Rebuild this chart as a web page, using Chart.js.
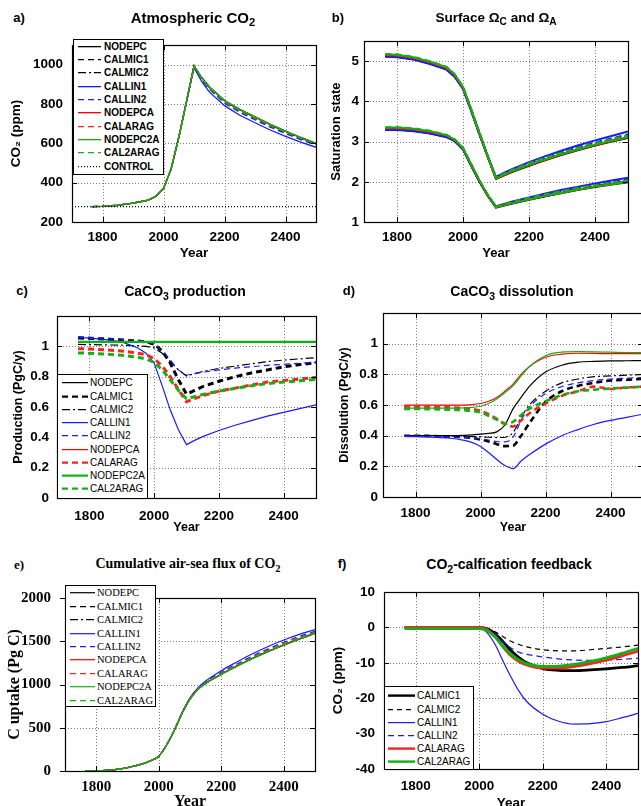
<!DOCTYPE html>
<html lang="en">
  <head>
    <meta charset="UTF-8" />
    <script src="https://cdn.jsdelivr.net/npm/chart.js"></script>
    <title>Calcification feedback runs</title>
    <style>
      body {
        margin: 0;
        width: 641px;
        height: 806px;
        overflow: hidden;
        position: relative;
        background: #fff;
        font-family: 'Liberation Sans', Arial, sans-serif;
      }
      canvas { position: absolute; }
      .label {
        position: absolute;
        transform: translate(-50%, -50%);
        white-space: nowrap;
        font-weight: bold;
      }
      .label sub { font-size: 75%; vertical-align: -0.35em; line-height: 0; }
      .legend {
        position: absolute;
        background: #fff;
        border: 1px solid #000;
        box-sizing: border-box;
      }
      .legend .item { position: absolute; left: 0; right: 0; }
      .legend svg { position: absolute; top: 0; }
      .legend span { position: absolute; top: 0; white-space: nowrap; }
    </style>
  </head>
  <body>
    <script>
      // time axis shared by every run
      const years = [1765, 1800, 1850, 1900, 1950, 1975, 2000, 2025, 2050, 2075,
                     2100, 2125, 2150, 2200, 2250, 2300, 2350, 2400, 2450, 2500];
      const controlYears = [1700, 2500];
      const controlCo2 = [278, 278];

      const xTicks = [1800, 2000, 2200, 2400];
      const co2Ticks = [200, 400, 600, 800, 1000];
      const omegaTicks = [1, 2, 3, 4, 5];
      const caco3Ticks = [0, 0.2, 0.4, 0.6, 0.8, 1];
      const uptakeTicks = [0, 500, 1000, 1500, 2000];
      const feedbackTicks = [-40, -30, -20, -10, 0, 10];

      // a) atmospheric CO2 (ppm)
      const co2 = {
        NODEPC:   [278,280,285,296,311,331,370,470,630,810, 995,935,888,818,773,735,697,662,630,600],
        CALMIC1:  [278,280,285,296,311,331,370,470,630,810, 990,928,880,811,765,727,690,655,624,596],
        CALMIC2:  [278,280,285,296,311,331,370,470,630,810, 993,932,885,815,770,732,694,659,628,598],
        CALLIN1:  [278,280,285,296,311,331,370,470,630,808, 985,915,862,792,743,705,668,636,606,580],
        CALLIN2:  [278,280,285,296,311,331,370,470,630,809, 990,925,876,805,758,720,683,650,619,592],
        NODEPCA:  [278,280,285,296,311,331,370,470,630,810, 995,935,887,817,772,734,696,661,629,600],
        CALARAG:  [278,280,285,296,311,331,370,470,630,810, 992,930,881,812,766,728,692,657,626,598],
        NODEPC2A: [278,280,285,296,311,331,370,470,630,810, 995,935,888,818,773,735,697,662,630,601],
        CAL2ARAG: [278,280,285,296,311,331,370,470,630,810, 992,931,883,813,767,729,693,658,627,599]
      };

      // b) surface saturation state, calcite (upper) and aragonite (lower)
      const omegaC = {
        NODEPC:   [5.12,5.11,5.05,4.94,4.80,4.62,4.32,3.77,3.18,2.62,2.07,2.16,2.25,2.40,2.54,2.67,2.79,2.90,3.00,3.09],
        CALMIC1:  [5.13,5.12,5.06,4.95,4.81,4.63,4.33,3.78,3.19,2.63,2.09,2.19,2.28,2.43,2.57,2.70,2.82,2.93,3.03,3.12],
        CALMIC2:  [5.13,5.12,5.06,4.95,4.81,4.63,4.33,3.78,3.19,2.63,2.08,2.18,2.27,2.42,2.56,2.69,2.81,2.92,3.02,3.11],
        CALLIN1:  [5.11,5.10,5.04,4.93,4.79,4.61,4.31,3.76,3.18,2.63,2.12,2.23,2.32,2.49,2.64,2.78,2.91,3.03,3.14,3.25],
        CALLIN2:  [5.12,5.11,5.05,4.94,4.80,4.62,4.32,3.77,3.19,2.63,2.10,2.21,2.30,2.46,2.60,2.74,2.86,2.98,3.08,3.18],
        NODEPCA:  [5.15,5.14,5.08,4.97,4.83,4.65,4.34,3.79,3.20,2.63,2.08,2.17,2.26,2.41,2.55,2.68,2.80,2.91,3.01,3.10],
        CALARAG:  [5.16,5.15,5.09,4.98,4.84,4.66,4.35,3.80,3.21,2.64,2.10,2.20,2.29,2.45,2.59,2.72,2.84,2.95,3.05,3.14],
        NODEPC2A: [5.17,5.16,5.10,4.99,4.85,4.67,4.36,3.80,3.21,2.64,2.09,2.18,2.27,2.42,2.56,2.69,2.81,2.92,3.02,3.11],
        CAL2ARAG: [5.18,5.17,5.11,5.00,4.86,4.68,4.37,3.81,3.22,2.65,2.11,2.21,2.30,2.46,2.60,2.73,2.85,2.96,3.06,3.15]
      };
      const omegaA = {
        NODEPC:   [3.30,3.30,3.27,3.21,3.12,3.02,2.81,2.40,2.00,1.65,1.36,1.41,1.46,1.55,1.64,1.72,1.80,1.87,1.93,1.99],
        CALMIC1:  [3.31,3.31,3.28,3.22,3.13,3.03,2.82,2.41,2.01,1.66,1.37,1.43,1.48,1.57,1.66,1.75,1.83,1.90,1.96,2.02],
        CALMIC2:  [3.31,3.31,3.28,3.22,3.13,3.03,2.82,2.41,2.01,1.66,1.37,1.42,1.47,1.56,1.65,1.74,1.82,1.89,1.95,2.01],
        CALLIN1:  [3.29,3.29,3.26,3.20,3.11,3.01,2.80,2.40,2.00,1.66,1.39,1.45,1.51,1.61,1.71,1.80,1.88,1.96,2.03,2.10],
        CALLIN2:  [3.30,3.30,3.27,3.21,3.12,3.02,2.81,2.41,2.01,1.66,1.38,1.44,1.49,1.59,1.68,1.77,1.85,1.93,2.00,2.06],
        NODEPCA:  [3.33,3.33,3.30,3.24,3.15,3.04,2.83,2.42,2.02,1.66,1.37,1.42,1.47,1.56,1.65,1.73,1.81,1.88,1.94,2.00],
        CALARAG:  [3.34,3.34,3.31,3.25,3.16,3.05,2.84,2.43,2.03,1.67,1.38,1.44,1.49,1.59,1.68,1.76,1.84,1.91,1.97,2.03],
        NODEPC2A: [3.35,3.35,3.32,3.26,3.16,3.05,2.84,2.43,2.03,1.67,1.37,1.42,1.47,1.56,1.65,1.73,1.81,1.88,1.94,2.00],
        CAL2ARAG: [3.36,3.36,3.33,3.27,3.17,3.06,2.85,2.44,2.04,1.68,1.38,1.44,1.50,1.60,1.69,1.77,1.85,1.92,1.98,2.04]
      };

      // c) CaCO3 production (PgC/y)
      const production = {
        NODEPC:   [1.03,1.03,1.03,1.03,1.03,1.03,1.03,1.03,1.03,1.03,1.03,1.03,1.03,1.03,1.03,1.03,1.03,1.03,1.03,1.03],
        CALMIC1:  [1.055,1.054,1.048,1.042,1.035,1.03,1.015,0.97,0.89,0.78,0.685,0.71,0.735,0.77,0.80,0.825,0.845,0.865,0.88,0.893],
        CALMIC2:  [1.013,1.012,1.01,1.008,1.005,1.0,0.99,0.955,0.90,0.845,0.805,0.82,0.835,0.855,0.87,0.885,0.90,0.91,0.918,0.926],
        CALLIN1:  [1.06,1.055,1.045,1.03,0.99,0.955,0.89,0.74,0.58,0.45,0.352,0.38,0.405,0.445,0.48,0.51,0.54,0.565,0.59,0.615],
        CALLIN2:  [1.065,1.06,1.055,1.048,1.04,1.032,1.015,0.975,0.91,0.845,0.81,0.82,0.83,0.845,0.857,0.866,0.875,0.882,0.889,0.896],
        NODEPCA:  [1.03,1.03,1.03,1.03,1.03,1.03,1.03,1.03,1.03,1.03,1.03,1.03,1.03,1.03,1.03,1.03,1.03,1.03,1.03,1.03],
        CALARAG:  [0.985,0.983,0.978,0.97,0.955,0.945,0.92,0.87,0.80,0.715,0.635,0.655,0.675,0.705,0.725,0.745,0.765,0.775,0.785,0.795],
        NODEPC2A: [1.03,1.03,1.03,1.03,1.03,1.03,1.03,1.03,1.03,1.03,1.03,1.03,1.03,1.03,1.03,1.03,1.03,1.03,1.03,1.03],
        CAL2ARAG: [0.957,0.955,0.95,0.942,0.928,0.917,0.895,0.845,0.78,0.71,0.655,0.668,0.683,0.705,0.723,0.74,0.755,0.765,0.773,0.782]
      };

      // d) CaCO3 dissolution (PgC/y)
      const dissolution = {
        NODEPC:   [0.40,0.40,0.40,0.40,0.402,0.405,0.41,0.415,0.425,0.47,0.575,0.65,0.72,0.815,0.86,0.88,0.885,0.888,0.889,0.89],
        CALMIC1:  [0.40,0.40,0.398,0.395,0.39,0.385,0.375,0.362,0.345,0.332,0.335,0.40,0.48,0.62,0.69,0.725,0.745,0.76,0.765,0.77],
        CALMIC2:  [0.40,0.40,0.40,0.398,0.396,0.394,0.392,0.39,0.388,0.39,0.42,0.52,0.60,0.69,0.745,0.77,0.785,0.79,0.795,0.80],
        CALLIN1:  [0.395,0.393,0.39,0.385,0.37,0.355,0.33,0.29,0.245,0.205,0.185,0.235,0.275,0.345,0.40,0.44,0.475,0.50,0.52,0.54],
        CALLIN2:  [0.40,0.398,0.395,0.392,0.388,0.385,0.38,0.372,0.362,0.36,0.39,0.50,0.585,0.674,0.72,0.745,0.76,0.77,0.775,0.78],
        NODEPCA:  [0.60,0.60,0.60,0.60,0.60,0.603,0.61,0.625,0.65,0.69,0.735,0.80,0.85,0.912,0.932,0.938,0.937,0.935,0.935,0.935],
        CALARAG:  [0.59,0.59,0.588,0.585,0.58,0.575,0.563,0.54,0.51,0.478,0.46,0.50,0.545,0.61,0.66,0.69,0.72,0.705,0.715,0.72],
        NODEPC2A: [0.58,0.58,0.58,0.58,0.582,0.585,0.592,0.61,0.64,0.68,0.725,0.79,0.85,0.922,0.945,0.948,0.947,0.945,0.943,0.942],
        CAL2ARAG: [0.575,0.575,0.573,0.57,0.566,0.562,0.552,0.53,0.505,0.478,0.49,0.535,0.575,0.625,0.665,0.69,0.70,0.708,0.714,0.72]
      };

      // e) cumulative air-sea flux (Pg C)
      const uptake = {
        NODEPC:   [0,2,12,40,85,120,170,300,470,670,830,940,1010,1115,1210,1300,1380,1455,1525,1590],
        CALMIC1:  [0,2,12,40,85,120,170,300,470,670,833,945,1017,1123,1218,1308,1388,1463,1533,1598],
        CALMIC2:  [0,2,12,40,85,120,170,300,470,670,832,943,1014,1120,1215,1305,1385,1460,1530,1595],
        CALLIN1:  [0,2,12,40,85,120,171,302,475,680,845,960,1040,1160,1260,1355,1440,1515,1580,1635],
        CALLIN2:  [0,2,12,40,85,120,170,301,473,675,838,952,1028,1140,1238,1330,1412,1488,1556,1615],
        NODEPCA:  [0,2,12,40,85,120,170,300,470,670,831,942,1013,1118,1213,1303,1383,1458,1528,1593],
        CALARAG:  [0,2,12,40,85,120,170,300,471,672,835,948,1022,1130,1226,1317,1398,1473,1542,1605],
        NODEPC2A: [0,2,12,40,85,120,170,300,470,670,830,941,1011,1116,1211,1301,1381,1456,1526,1591],
        CAL2ARAG: [0,2,12,40,85,120,170,300,471,671,834,946,1020,1127,1222,1312,1393,1468,1537,1600]
      };

      // f) CO2 difference from the run without calcification feedback (ppm)
      const feedback = {
        CALMIC1:  [0,0,0,0,0,0,0,-0.4,-1.8,-4.0,-6.5,-8.5,-10.0,-11.6,-12.1,-12.2,-12.0,-11.7,-11.3,-10.8],
        CALMIC2:  [0,0,0,0,0,0,0,-0.3,-1.2,-2.6,-3.9,-4.8,-5.5,-6.3,-6.6,-6.6,-6.3,-5.9,-5.5,-5.0],
        CALLIN1:  [0,0,0,0,0,0,0,-1.5,-4.8,-9.5,-14.0,-18.0,-21.0,-24.5,-26.5,-27.3,-27.2,-26.6,-25.5,-24.3],
        CALLIN2:  [0,0,0,0,0,0,0,-0.5,-2.0,-4.0,-5.8,-7.0,-7.6,-8.3,-8.9,-9.2,-9.3,-9.2,-9.0,-8.7],
        CALARAG:  [0,0,0,0,0,0,0,-0.6,-2.6,-5.5,-8.0,-9.6,-10.6,-11.5,-11.5,-11.0,-10.2,-9.2,-8.0,-6.7],
        CAL2ARAG: [-0.3,-0.3,-0.3,-0.3,-0.3,-0.3,-0.3,-0.9,-2.7,-5.3,-7.6,-9.2,-10.2,-11.0,-10.9,-10.4,-9.6,-8.6,-7.3,-5.9]
      };

      const runStyle = {
        NODEPC:   { color: '#000000', dash: [] },
        CALMIC1:  { color: '#000000', dash: [6, 4] },
        CALMIC2:  { color: '#000000', dash: [8, 3, 2, 3] },
        CALLIN1:  { color: '#1a1aff', dash: [] },
        CALLIN2:  { color: '#1a1aff', dash: [6, 4] },
        NODEPCA:  { color: '#ff0000', dash: [] },
        CALARAG:  { color: '#ff2020', dash: [6, 4] },
        NODEPC2A: { color: '#12b012', dash: [] },
        CAL2ARAG: { color: '#12b012', dash: [6, 4] },
        CONTROL:  { color: '#000000', dash: [1, 2] }
      };

      Chart.defaults.font.family = "'Liberation Sans', Arial, sans-serif";
      Chart.defaults.color = '#000';

      function points(xs, ys) {
        return xs.map((x, i) => ({ x: x, y: ys[i] }));
      }

      function lineSet(name, xs, ys, width, label) {
        const st = runStyle[name];
        return {
          label: label || name,
          data: points(xs, ys),
          borderColor: st.color,
          borderDash: st.dash,
          borderWidth: width,
          pointRadius: 0,
          fill: false
        };
      }

      // tick pixel positions straight from the scales
      function tickPixels(chart) {
        const sx = chart.scales.x, sy = chart.scales.y;
        return {
          xs: sx.ticks.map(t => Math.round(sx.getPixelForValue(t.value)) + 0.5),
          ys: sy.ticks.map(t => Math.round(sy.getPixelForValue(t.value)) + 0.5)
        };
      }

      // dotted grid under the lines; box and inward ticks on top
      const framePlugin = {
        id: 'frame',
        beforeDatasetsDraw(chart) {
          const { ctx, chartArea: a } = chart;
          const { xs, ys } = tickPixels(chart);
          ctx.save();
          ctx.strokeStyle = '#7a7a7a';
          ctx.lineWidth = 1;
          ctx.setLineDash([1, 2]);
          ctx.beginPath();
          xs.forEach(px => { ctx.moveTo(px, a.top); ctx.lineTo(px, a.bottom); });
          ys.forEach(py => { ctx.moveTo(a.left, py); ctx.lineTo(a.right, py); });
          ctx.stroke();
          ctx.restore();
        },
        afterDraw(chart, args, opts) {
          const { ctx, chartArea: a } = chart;
          const { xs, ys } = tickPixels(chart);
          const L = 5;
          ctx.save();
          ctx.strokeStyle = '#000';
          ctx.lineWidth = 1;
          ctx.beginPath();
          xs.forEach(px => {
            ctx.moveTo(px, a.bottom); ctx.lineTo(px, a.bottom - L);
            ctx.moveTo(px, a.top); ctx.lineTo(px, a.top + L);
          });
          ys.forEach(py => {
            ctx.moveTo(a.left, py); ctx.lineTo(a.left + (opts.outLeft ? -L : L), py);
            ctx.moveTo(a.right, py); ctx.lineTo(a.right - L, py);
          });
          ctx.stroke();
          ctx.lineWidth = 1.2;
          ctx.strokeRect(Math.round(a.left) + 0.5, Math.round(a.top) + 0.5,
                         Math.round(a.right - a.left), Math.round(a.bottom - a.top));
          ctx.restore();
        }
      };

      function makePanel(p) {
        const canvas = document.createElement('canvas');
        canvas.width = p.canvas.w;
        canvas.height = p.canvas.h;
        canvas.style.left = p.canvas.x + 'px';
        canvas.style.top = p.canvas.y + 'px';
        document.body.appendChild(canvas);

        // later runs sit on top, as in the original plot
        p.datasets.forEach((ds, i) => { ds.order = p.datasets.length - i; });

        const tickFont = { size: p.tickSize || 13.5, weight: 'bold', family: p.family };
        const titleFont = { size: p.titleSize || 13.5, weight: 'bold', family: p.family };

        return new Chart(canvas, {
          type: 'line',
          data: { datasets: p.datasets },
          options: {
            responsive: false,
            animation: false,
            events: [],
            layout: {
              padding: {
                top: p.plot.t - p.canvas.y,
                right: p.canvas.x + p.canvas.w - p.plot.r,
                left: 0,
                bottom: 0
              }
            },
            elements: { line: { tension: 0, cubicInterpolationMode: p.smooth ? 'monotone' : 'default' } },
            plugins: {
              legend: { display: false },
              tooltip: { enabled: false },
              frame: { outLeft: !!p.outLeft }
            },
            scales: {
              x: {
                type: 'linear',
                min: 1700,
                max: 2500,
                grid: { display: false, drawTicks: false },
                border: { display: false },
                afterBuildTicks: s => { s.ticks = xTicks.map(v => ({ value: v })); },
                afterFit: s => { s.height = p.canvas.y + p.canvas.h - p.plot.b; },
                ticks: { font: tickFont, padding: p.xPad, maxRotation: 0, autoSkip: false, callback: v => String(v) },
                title: { display: true, text: 'Year', font: titleFont, padding: { top: 0, bottom: p.xTitlePad } }
              },
              y: {
                type: 'linear',
                min: p.yMin,
                max: p.yMax,
                grid: { display: false, drawTicks: false },
                border: { display: false },
                afterBuildTicks: s => { s.ticks = p.yTicks.map(v => ({ value: v })); },
                afterFit: s => { s.width = p.plot.l - p.canvas.x; },
                ticks: { font: tickFont, padding: p.yPad, autoSkip: false, callback: v => String(v) },
                title: { display: true, text: p.yTitle, font: titleFont, padding: { top: p.yTitlePad, bottom: 0 } }
              }
            }
          },
          plugins: [framePlugin]
        });
      }

      function htmlLegend(chart, spec) {
        const box = document.createElement('div');
        box.className = 'legend';
        Object.assign(box.style, {
          left: spec.x + 'px', top: spec.y + 'px',
          width: spec.w + 'px', height: spec.h + 'px',
          fontFamily: spec.family, fontSize: spec.size + 'px', fontWeight: spec.weight || 'normal'
        });
        chart.data.datasets.forEach((ds, i) => {
          const row = document.createElement('div');
          row.className = 'item';
          row.style.top = (spec.first - spec.y - 1 - spec.step / 2 + i * spec.step) + 'px';
          row.style.height = spec.step + 'px';
          const len = spec.sx1 - spec.sx0;
          const mid = spec.step / 2;
          const w = Math.min(ds.borderWidth, 2.4);
          row.innerHTML =
            `<svg width="${len}" height="${spec.step}" style="left:${spec.sx0 - spec.x - 1}px">` +
            `<line x1="0" y1="${mid}" x2="${len}" y2="${mid}" stroke="${ds.borderColor}" ` +
            `stroke-width="${w}" stroke-dasharray="${ds.borderDash.join(' ')}"/></svg>` +
            `<span style="left:${spec.tx - spec.x - 1}px;line-height:${spec.step}px">${ds.label}</span>`;
          box.appendChild(row);
        });
        document.body.appendChild(box);
      }

      function addLabel(html, x, y, size, family) {
        const d = document.createElement('div');
        d.className = 'label';
        d.innerHTML = html;
        d.style.left = x + 'px';
        d.style.top = y + 'px';
        d.style.fontSize = size + 'px';
        d.style.fontFamily = family;
        document.body.appendChild(d);
      }

      const sans = "'Liberation Sans', Arial, sans-serif";
      const serif = "'Liberation Serif', 'Times New Roman', serif";
      const runs = Object.keys(co2);
      const thick = ['CALMIC1', 'CALARAG', 'CAL2ARAG'];

      // a)
      const chartA = makePanel({
        canvas: { x: 0, y: 28, w: 322, h: 234 },
        plot: { l: 72, t: 39, r: 316, b: 222 },
        yMin: 200, yMax: 1100, yTicks: co2Ticks,
        yTitle: 'CO\u2082 (ppm)', xPad: 7, yPad: 9, xTitlePad: 1, yTitlePad: 8,
        datasets: runs.map(r => lineSet(r, years, co2[r], 1.3))
          .concat([lineSet('CONTROL', controlYears, controlCo2, 1.1)])
      });
      htmlLegend(chartA, { x: 73, y: 39, w: 91, h: 136, first: 46.5, step: 13.3,
                           sx0: 78, sx1: 101, tx: 104, family: sans, size: 10, weight: 'bold' });

      // b)
      const omegaSets = [];
      runs.forEach(r => { omegaSets.push(lineSet(r, years, omegaC[r], 2)); });
      runs.forEach(r => { omegaSets.push(lineSet(r, years, omegaA[r], 2)); });
      makePanel({
        canvas: { x: 322, y: 28, w: 319, h: 234 },
        plot: { l: 364, t: 39, r: 628, b: 222 },
        yMin: 1, yMax: 5.5, yTicks: omegaTicks,
        yTitle: 'Saturation state', titleSize: 13, xPad: 7, yPad: 5, xTitlePad: 1, yTitlePad: 7,
        datasets: omegaSets
      });

      // c)
      const chartC = makePanel({
        canvas: { x: 0, y: 300, w: 322, h: 236 },
        plot: { l: 57, t: 312, r: 316, b: 498 },
        yMin: 0, yMax: 1.2, yTicks: caco3Ticks,
        yTitle: 'Production (PgC/y)', titleSize: 12.5, xPad: 10, yPad: 8, xTitlePad: 1, yTitlePad: 11,
        datasets: runs.map(r => lineSet(r, years, production[r],
          thick.includes(r) ? 3 : (r === 'NODEPC2A' ? 2.2 : 1.2)))
      });
      htmlLegend(chartC, { x: 57, y: 374, w: 91, h: 125, first: 383, step: 13.25,
                           sx0: 62, sx1: 88, tx: 90, family: sans, size: 10 });

      // d)
      makePanel({
        canvas: { x: 322, y: 300, w: 330, h: 236 },
        plot: { l: 383, t: 312, r: 643, b: 497 },
        yMin: 0, yMax: 1.2, yTicks: caco3Ticks, smooth: true,
        yTitle: 'Dissolution (PgC/y)', titleSize: 12.5, xPad: 8, yPad: 5, xTitlePad: 1, yTitlePad: 15,
        datasets: runs.map(r => lineSet(r, years, dissolution[r], thick.includes(r) ? 2.6 : 1.2))
      });

      // e)
      const chartE = makePanel({
        canvas: { x: 0, y: 575, w: 322, h: 240 },
        plot: { l: 65, t: 585, r: 315, b: 771 },
        yMin: 0, yMax: 2000, yTicks: uptakeTicks, smooth: true, outLeft: true,
        family: serif, tickSize: 15, titleSize: 16,
        yTitle: 'C uptake (Pg C)', xPad: 7, yPad: 14, xTitlePad: 4, yTitlePad: 5,
        datasets: runs.map(r => lineSet(r, years, uptake[r], 1.2))
      });
      htmlLegend(chartE, { x: 65, y: 585, w: 91, h: 122, first: 593, step: 13.4,
                           sx0: 70, sx1: 95, tx: 97, family: serif, size: 10.5 });

      // f) the three calcification-sensitive runs are thick solid lines here
      const fbRuns = Object.keys(feedback);
      const chartF = makePanel({
        canvas: { x: 322, y: 575, w: 319, h: 240 },
        plot: { l: 384, t: 587, r: 638, b: 769 },
        yMin: -40, yMax: 10, yTicks: feedbackTicks, smooth: true,
        yTitle: 'CO\u2082 (ppm)', xPad: 9, yPad: 9, xTitlePad: 4, yTitlePad: 8,
        datasets: fbRuns.map(r => {
          const ds = lineSet(r, years, feedback[r], thick.includes(r) ? 2.8 : 1.2);
          if (thick.includes(r)) ds.borderDash = [];
          if (r === 'CALMIC2') ds.borderDash = [5, 4];
          return ds;
        })
      });
      htmlLegend(chartF, { x: 384, y: 686, w: 90, h: 84, first: 696, step: 13.2,
                           sx0: 388, sx1: 415, tx: 417, family: sans, size: 10 });

      // panel letters and titles
      addLabel('a)', 19, 17, 13, sans);
      addLabel('Atmospheric CO<sub>2</sub>', 193, 17, 15, sans);
      addLabel('b)', 338, 17, 13, sans);
      addLabel('Surface \u03A9<sub>C</sub> and \u03A9<sub>A</sub>', 496, 17, 13.5, sans);
      addLabel('c)', 22, 290, 13, sans);
      addLabel('CaCO<sub>3</sub> production', 185, 291, 14, sans);
      addLabel('d)', 349, 290, 13, sans);
      addLabel('CaCO<sub>3</sub> dissolution', 512, 291, 14, sans);
      addLabel('e)', 19, 565, 13, serif);
      addLabel('Cumulative air-sea flux of CO<sub>2</sub>', 188, 564, 14, serif);
      addLabel('f)', 342, 563, 13, sans);
      addLabel('CO<sub>2</sub>-calfication feedback', 509, 564, 14, sans);
    </script>
  </body>
</html>
